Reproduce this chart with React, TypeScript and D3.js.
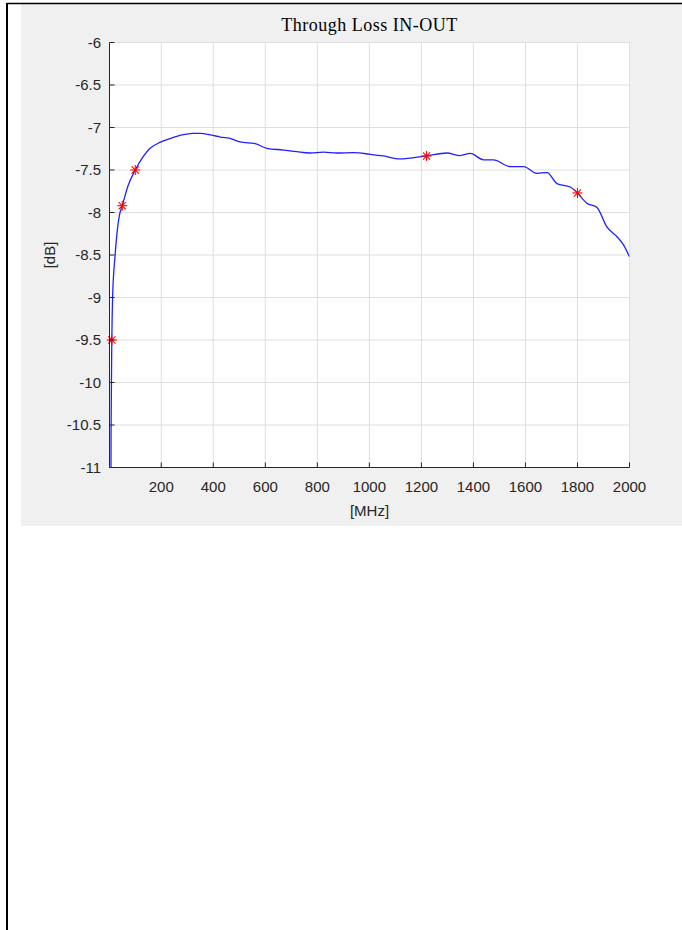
import React from "react";
import * as d3 from "d3";

const freqMHz = [5, 7, 10, 13, 22, 31, 40, 50, 73, 100, 131, 157, 195, 234, 285, 320, 349, 394, 410, 426, 464, 503, 561, 606, 670, 721, 772, 823, 875, 939, 1003, 1054, 1118, 1157, 1220, 1298, 1349, 1388, 1439, 1477, 1541, 1593, 1644, 1683, 1721, 1772, 1800, 1836, 1875, 1913, 1952, 1977, 2000];
const lossDb = [-13.5, -10.6, -9.5, -8.99, -8.52, -8.21, -8.02, -7.92, -7.68, -7.5, -7.34, -7.245, -7.175, -7.13, -7.085, -7.07, -7.068, -7.09, -7.1, -7.112, -7.127, -7.17, -7.19, -7.245, -7.265, -7.285, -7.3, -7.29, -7.3, -7.296, -7.315, -7.335, -7.37, -7.36, -7.335, -7.3, -7.33, -7.305, -7.38, -7.38, -7.46, -7.46, -7.54, -7.53, -7.66, -7.7, -7.77, -7.89, -7.94, -8.17, -8.285, -8.38, -8.52];

const markerFreq = [10, 50, 100, 1220, 1800];
const markerLoss = [-9.5, -7.92, -7.5, -7.335, -7.77];

const xTicks = [200, 400, 600, 800, 1000, 1200, 1400, 1600, 1800, 2000];
const yTicks = [-11, -10.5, -10, -9.5, -9, -8.5, -8, -7.5, -7, -6.5, -6];

const titleText = "Through Loss IN-OUT";
const xLabel = "[MHz]";
const yLabel = "[dB]";

export default function App() {
  const W = 682, H = 930;
  const left = 109.5, right = 629.5, top = 42.5, bottom = 467.5;
  const x = d3.scaleLinear().domain([1, 2000]).range([left, right]);
  const y = d3.scaleLinear().domain([-11, -6]).range([bottom, top]);
  const pts: [number, number][] = freqMHz.map((f, i) => [f, lossDb[i]]);
  const line = d3.line<[number, number]>().x(d => x(d[0])).y(d => y(d[1])).curve(d3.curveMonotoneX);
  const sans = "'Liberation Sans', Arial, Helvetica, sans-serif";
  const tickColor = "#262626";
  const gridColor = "#dfdfdf";
  const ms = 5;
  return (
    <svg width={W} height={H} style={{ position: "fixed", left: 0, top: 0, display: "block" }}>
      <rect x={0} y={0} width={W} height={H} fill="#ffffff" />
      <rect x={21} y={4} width={W - 21} height={522} fill="#f0f0f0" />
      <line x1={7} x2={W} y1={3.5} y2={3.5} stroke="#000" strokeWidth={1.5} />
      <line x1={7} x2={7} y1={3} y2={H} stroke="#000" strokeWidth={2} />
      <defs>
        <clipPath id="plotclip">
          <rect x={left} y={top} width={right - left} height={bottom - top} />
        </clipPath>
      </defs>
      <rect x={left} y={top} width={right - left} height={bottom - top} fill="#ffffff" />
      {xTicks.map(t => (
        <line key={"gx" + t} x1={x(t)} x2={x(t)} y1={top} y2={bottom} stroke={gridColor} strokeWidth={1} />
      ))}
      {yTicks.map(t => (
        <line key={"gy" + t} x1={left} x2={right} y1={y(t)} y2={y(t)} stroke={gridColor} strokeWidth={1} />
      ))}
      <g clipPath="url(#plotclip)">
        <path d={line(pts) || ""} fill="none" stroke="#2020ff" strokeWidth={1.3} strokeLinejoin="round" />
      </g>
      {markerFreq.map((f, i) => {
        const cx = x(f), cy = y(markerLoss[i]);
        const d = ms * 0.72;
        return (
          <g key={"m" + i} stroke="#ff0000" strokeWidth={1.1}>
            <line x1={cx - ms} x2={cx + ms} y1={cy} y2={cy} />
            <line x1={cx} x2={cx} y1={cy - ms} y2={cy + ms} />
            <line x1={cx - d} x2={cx + d} y1={cy - d} y2={cy + d} />
            <line x1={cx - d} x2={cx + d} y1={cy + d} y2={cy - d} />
          </g>
        );
      })}
      <line x1={left} x2={right} y1={bottom} y2={bottom} stroke={tickColor} strokeWidth={1} />
      <line x1={left} x2={left} y1={top} y2={bottom} stroke={tickColor} strokeWidth={1} />
      {xTicks.map(t => (
        <g key={"xt" + t}>
          <line x1={x(t)} x2={x(t)} y1={bottom} y2={bottom - 5} stroke={tickColor} strokeWidth={1} />
          <text x={x(t)} y={492} textAnchor="middle" fontFamily={sans} fontSize={15} fill={tickColor}>{t}</text>
        </g>
      ))}
      {yTicks.map(t => (
        <g key={"yt" + t}>
          <line x1={left} x2={left + 5} y1={y(t)} y2={y(t)} stroke={tickColor} strokeWidth={1} />
          <text x={101} y={y(t) + 5} textAnchor="end" fontFamily={sans} fontSize={15} fill={tickColor}>{t}</text>
        </g>
      ))}
      <text x={(left + right) / 2} y={516} textAnchor="middle" fontFamily={sans} fontSize={15} fill={tickColor}>{xLabel}</text>
      <text transform={`translate(55, ${(top + bottom) / 2}) rotate(-90)`} textAnchor="middle" fontFamily={sans} fontSize={15} fill={tickColor}>{yLabel}</text>
      <text x={(left + right) / 2} y={31} textAnchor="middle" fontFamily="'Liberation Serif', 'Times New Roman', serif" fontSize={18} letterSpacing={0.5} fill="#000">{titleText}</text>
    </svg>
  );
}
